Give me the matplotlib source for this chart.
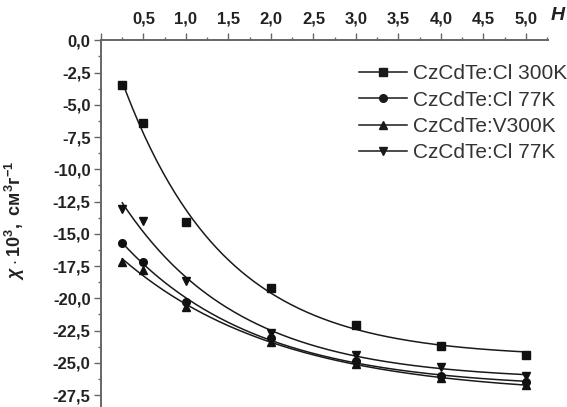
import numpy as np
import matplotlib
matplotlib.use('Agg')
import matplotlib.pyplot as plt
from matplotlib.ticker import MultipleLocator, FuncFormatter

# поле H и восприимчивость для четырёх образцов
pole_h = [0.25, 0.5, 1.0, 2.0, 3.0, 4.0, 5.0]
cl_300k = [-3.5, -6.4, -14.1, -19.2, -22.1, -23.7, -24.4]
cl_77k_a = [-15.7, -17.2, -20.3, -23.1, -24.9, -26.0, -26.5]
v_300k = [-17.2, -17.8, -20.7, -23.4, -25.1, -26.2, -26.7]
cl_77k_b = [-13.1, -14.0, -18.7, -22.7, -24.4, -25.3, -26.0]

rotulos = ['CzCdTe:Cl 300K', 'CzCdTe:Cl 77K', 'CzCdTe:V300K', 'CzCdTe:Cl 77K']
marcadores = ['s', 'o', '^', 'v']
series = [cl_300k, cl_77k_a, v_300k, cl_77k_b]

plt.rcParams['mathtext.fontset'] = 'custom'
plt.rcParams['mathtext.it'] = 'Liberation Sans:italic:bold'
plt.rcParams['mathtext.rm'] = 'Liberation Sans:bold'
plt.rcParams['mathtext.bf'] = 'Liberation Sans:bold'


def ajuste_exp(x, y):
    # y = a + b*exp(-x/t), t por busca simples, a e b por minimos quadrados
    x = np.asarray(x)
    y = np.asarray(y)
    melhor = None
    for t in np.linspace(0.2, 5.0, 481):
        A = np.column_stack([np.ones_like(x), np.exp(-x / t)])
        coef, res, _, _ = np.linalg.lstsq(A, y, rcond=None)
        erro = np.sum((A @ coef - y) ** 2)
        if melhor is None or erro < melhor[0]:
            melhor = (erro, t, coef)
    _, t, coef = melhor
    xs = np.linspace(x.min(), x.max(), 200)
    return xs, coef[0] + coef[1] * np.exp(-xs / t)


fig = plt.figure(figsize=(5.67, 4.07), dpi=100)
ax = fig.add_axes([101 / 567, 0.0, 447 / 567, 1 - 40.3 / 407])

handles = []
for y, m, lab in zip(series, marcadores, rotulos):
    xs, ys = ajuste_exp(pole_h, y)
    ax.plot(xs, ys, color='#1a1a1a', linewidth=1.1)
    ax.plot(pole_h, y, linestyle='none', marker=m, markersize=5.5,
            color='#111111')
    h, = ax.plot([], [], color='#1a1a1a', linewidth=1.1, marker=m,
                 markersize=5.5, label=lab)
    handles.append(h)

ax.set_xlim(0, 5.26)
ax.set_ylim(-28.43, 0)

ax.xaxis.tick_top()
ax.xaxis.set_major_locator(MultipleLocator(0.5))
ax.xaxis.set_minor_locator(MultipleLocator(0.25))
ax.yaxis.set_major_locator(MultipleLocator(2.5))
ax.yaxis.set_minor_locator(MultipleLocator(1.25))

ax.xaxis.set_major_formatter(FuncFormatter(
    lambda v, p: '' if abs(v) < 1e-9 else f"{v:.1f}".replace('.', ',')))
ax.yaxis.set_major_formatter(FuncFormatter(
    lambda v, p: f"{v:.1f}".replace('.', ',')))

for s in ['right', 'bottom']:
    ax.spines[s].set_visible(False)
for s in ['top', 'left']:
    ax.spines[s].set_color('#666666')
    ax.spines[s].set_linewidth(1.4)

ax.tick_params(which='major', length=5, width=1.0, color='#666666',
               labelsize=12, labelcolor='#222222')
ax.tick_params(which='minor', length=2.5, width=1.0, color='#666666')
ax.tick_params(axis='x', which='major', pad=5)
ax.tick_params(axis='y', which='major', pad=2.5)
for t in ax.get_xticklabels() + ax.get_yticklabels():
    t.set_fontweight('bold')
    t.set_family('Liberation Sans')

ax.set_ylabel(r'$\chi\cdot\mathrm{10}^{3}\mathrm{,\ см}^{3}\mathrm{г}^{-1}$',
              fontsize=13, color='#222222')
ax.yaxis.set_label_coords(-74 / 447, (407 - 220) / (407 - 40.3))

fig.text(551 / 567, 1 - 15 / 407, 'H', fontsize=14, fontweight='bold',
         fontstyle='italic', family='Liberation Sans', color='#222222',
         va='center', ha='left')

leg = ax.legend(handles=handles, loc='upper left', frameon=False,
                bbox_to_anchor=(359 / 567, 1 - 64 / 407),
                bbox_transform=fig.transFigure, borderpad=0,
                borderaxespad=0, handlelength=2.3, handletextpad=0.28,
                labelspacing=0.36, prop={'family': 'Liberation Sans', 'size': 15})
for t in leg.get_texts():
    t.set_color('#333333')

fig.savefig('out.png', dpi=100)
